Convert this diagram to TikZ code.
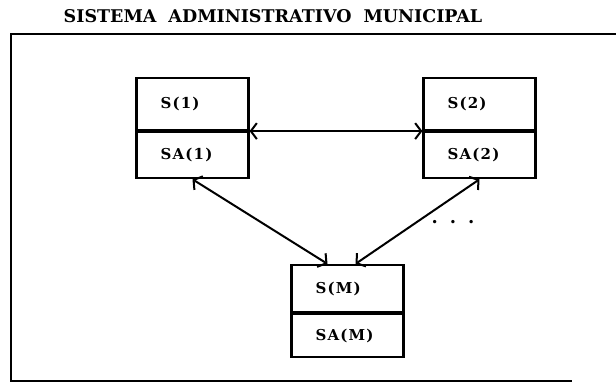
\documentclass[tikz,border=0pt]{standalone}
\usepackage{fontspec}
\setmainfont{DejaVu Serif}
\usetikzlibrary{positioning,arrows.meta}

\tikzset{
  part/.style={draw,line width=2.2pt,minimum width=112pt,text width=64pt,
    inner xsep=24pt,inner ysep=0pt,align=left,
    font=\fontsize{15}{17}\selectfont\bfseries\addfontfeature{LetterSpace=8}},
  link/.style={line width=2pt,{Straight Barb[length=6pt,width=16pt]}-{Straight Barb[length=6pt,width=16pt]}}
}

\begin{document}
\begin{tikzpicture}[x=1pt,y=-1pt]
  \useasboundingbox (0,0) rectangle (616,383);

  \node[font=\fontsize{17.5}{20}\selectfont\bfseries] (title) at (273,16)
    {SISTEMA\hspace{12pt}ADMINISTRATIVO\hspace{12pt}MUNICIPAL};
  \draw[line width=2.4pt] (616,34) -- (11,34) -- (11,381) -- (572,381); %frame

  % the three subsystems
  \node[part,minimum height=52pt] (s1) at (192.5,104) {S(1)};
  \node[part,minimum height=46pt,below=0pt of s1] (sa1) {SA(1)};
  \node[part,minimum height=52pt] (s2) at (479.5,104) {S(2)};
  \node[part,minimum height=46pt,below=0pt of s2] (sa2) {SA(2)};
  \node[part,minimum height=47pt] (sm) at (347.5,288.5) {S(M)};
  \node[part,minimum height=43pt,below=0pt of sm] (sam) {SA(M)};

  \node[font=\fontsize{18}{18}\selectfont\bfseries] (dots) at (453,222) {.\hspace{12pt}.\hspace{12pt}.};

  \draw[link] (s1.south east) -- (s2.south west);
  \draw[link] (sa1.south) -- ([xshift=-20pt]sm.north);
  \draw[link] (sa2.south) -- ([xshift=8pt]sm.north);
\end{tikzpicture}
\end{document}
